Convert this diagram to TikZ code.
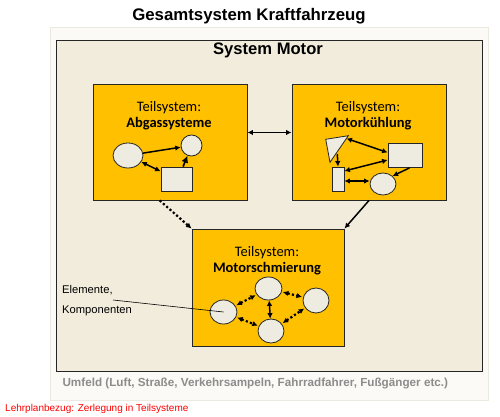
\documentclass[tikz,border=0pt]{standalone}
\usepackage{fontspec}
\setmainfont{Liberation Sans}
\newfontfamily\calibri{Carlito}
\usetikzlibrary{shapes.geometric,arrows.meta}
\definecolor{panel}{HTML}{FBFAF6}
\definecolor{panelrand}{HTML}{ECE9E0}
\definecolor{motorfarbe}{HTML}{F2ECDC}
\definecolor{teilgelb}{HTML}{FFC000}
\definecolor{element}{HTML}{EEECE1}
\definecolor{umfeldgrau}{HTML}{8C8C8C}

\begin{document}
\begin{tikzpicture}
  [x=1pt,y=-1pt,
   teil/.style={draw=black!85,fill=teilgelb,line width=0.9pt,minimum width=154pt,minimum height=116pt,inner sep=0pt},
   elem/.style={draw=black!85,fill=element,line width=0.8pt,inner sep=0pt},
   ellip/.style={elem,ellipse},
   kasten/.style={elem,rectangle},
   pfeil/.style={line width=1.5pt,-{Latex[length=5.5pt,width=5.5pt]}},
   doppel/.style={line width=1.5pt,{Latex[length=5.5pt,width=5.5pt]}-{Latex[length=5.5pt,width=5.5pt]}},
   punkte/.style={line width=2.2pt,dash pattern=on 2.2pt off 2.2pt},
   titel/.style={font=\calibri\fontsize{14.5}{17}\selectfont,align=center}]
  \useasboundingbox (0,0) rectangle (500,417);

  % Rahmen
  \fill[white] (0,0) rectangle (500,417);
  \draw[panelrand,fill=panel] (50,27) rectangle (488,400);
  \draw[black!85,fill=motorfarbe,line width=1pt] (56,41) rectangle (482,371);

  \node (gesamt) at (249,16) {\fontsize{16.8}{18}\selectfont\bfseries Gesamtsystem Kraftfahrzeug};
  \node (motor) at (268,50) {\fontsize{16.6}{18}\selectfont\bfseries System Motor};
  \node[anchor=west,text=umfeldgrau] (umfeld) at (59,383)
    {\fontsize{11.7}{13}\selectfont\bfseries Umfeld (Luft, Straße, Verkehrsampeln, Fahrradfahrer, Fußgänger etc.)};
  \node[anchor=west,text=red,inner sep=0pt] (bezug) at (5,409)
    {\fontsize{10}{12}\selectfont Lehrplanbezug: Zerlegung in Teilsysteme};

  % Teilsysteme
  \node[teil] (A) at (170,142) {};
  \node[teil] (B) at (369,142) {};
  \node[teil,minimum width=152pt,minimum height=117pt] (C) at (268,287.5) {};

  \node[titel] (tA) at (169,115.5) {Teilsystem:\\[-1pt]\textbf{Abgassysteme}};
  \node[titel] (tB) at (368,115.5) {Teilsystem:\\[-1pt]\textbf{Motorkühlung}};
  \node[titel] (tC) at (267,261) {Teilsystem:\\[-1pt]\textbf{Motorschmierung}};

  \draw[doppel] (A.7) -- (B.173);
  \draw[pfeil,punkte] (A.260) -- (C.north west);
  \draw[pfeil] (B.south) -- (C.north east);

  % Abgassysteme
  \node[ellip,minimum width=30pt,minimum height=25pt] (eA) at (128,155.5) {};
  \node[ellip,minimum width=21pt,minimum height=21pt] (kA) at (191.5,145.5) {};
  \node[kasten,minimum width=31pt,minimum height=24pt] (rA) at (176.5,179) {};

  \draw[pfeil] (eA) -- (kA);
  \draw[doppel] (eA) -- (rA);
  \draw[line width=1.7pt,-{Latex[length=7pt,width=7pt]}] (rA.62) -- (kA);

  % Motorkuehlung
  \draw[elem] (325.7,139.3) -- (348.3,135.7) -- (330,162.3) -- cycle;
  \coordinate (dreieckR) at (346.5,138.5);
  \coordinate (dreieckU) at (337.3,154);
  \node[kasten,minimum width=34pt,minimum height=24pt] (rB) at (405,155.5) {};
  \node[kasten,minimum width=12pt,minimum height=24pt] (sB) at (338,179) {};
  \node[ellip,minimum width=26pt,minimum height=22pt] (kB) at (383,184) {};

  \draw[doppel] (dreieckR) -- (rB.west |- 0,152.5);
  \draw[pfeil] (dreieckU) -- (sB.north);
  \draw[doppel] (rB.west |- 0,160) -- (sB.north east |- 0,171);
  \draw[doppel] (sB.east |- 0,181) -- (kB.west |- 0,181);
  \draw[pfeil] (rB.290) -- (kB.40);

  % Motorschmierung
  \node[ellip,minimum width=27pt,minimum height=24pt] (c1) at (223.5,312) {};
  \node[ellip,minimum width=27pt,minimum height=23pt] (c2) at (268.5,288.5) {};
  \node[ellip,minimum width=26pt,minimum height=25pt] (c3) at (316,300.5) {};
  \node[ellip,minimum width=26pt,minimum height=24pt] (c4) at (271,331) {};

  \foreach \von/\nach in {c1/c2, c2/c3, c1/c4, c4/c3}
    \draw[doppel,punkte,shorten <=1pt,shorten >=1pt] (\von) -- (\nach);
  \draw[doppel] (c2) -- (c4);

  % Beschriftung
  \node[anchor=west,inner sep=0pt] (elemente) at (62,290) {\fontsize{11.2}{13}\selectfont Elemente,};
  \node[anchor=west,inner sep=0pt] (komponenten) at (62,311) {\fontsize{11.2}{13}\selectfont Komponenten};
  \coordinate (zeiger) at (113,300);
  \draw[line width=0.6pt] (zeiger) -- (c1.center);
\end{tikzpicture}
\end{document}
